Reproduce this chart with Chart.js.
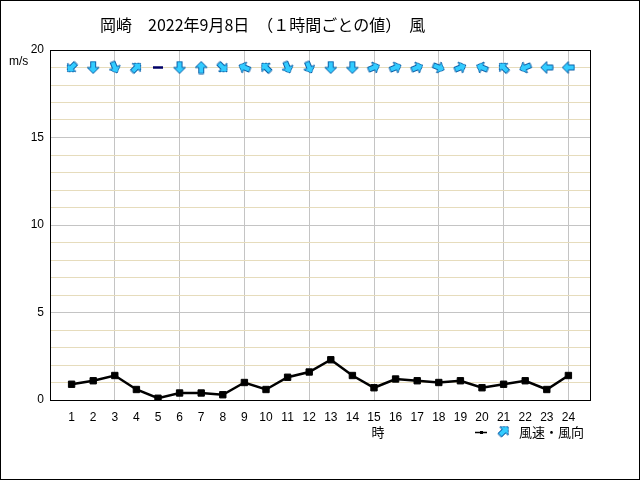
<!DOCTYPE html>
<html>
<head>
<meta charset="utf-8">
<script src="https://cdn.jsdelivr.net/npm/chart.js@4"></script>
<style>
  html, body { margin: 0; padding: 0; background: #fff; }
</style>
</head>
<body>
<canvas id="windChart" width="640" height="480"></canvas>
<script>
// 岡崎 2022年9月8日 1時間ごとの値
const hours = [1, 2, 3, 4, 5, 6, 7, 8, 9, 10, 11, 12, 13, 14, 15, 16, 17, 18, 19, 20, 21, 22, 23, 24];
const windSpeed = [0.9, 1.1, 1.4, 0.6, 0.1, 0.4, 0.4, 0.3, 1.0, 0.6, 1.3, 1.6,
                   2.3, 1.4, 0.7, 1.2, 1.1, 1.0, 1.1, 0.7, 0.9, 1.1, 0.6, 1.4];
// 風向 (吹いてくる方位), 'CALM' = 静穏
const windFrom = ['NE', 'N', 'NNW', 'SW', 'CALM', 'N', 'S', 'NW', 'ESE', 'SE', 'NNW', 'NNW',
                  'N', 'N', 'WSW', 'WSW', 'WSW', 'WNW', 'WSW', 'ESE', 'SE', 'ENE', 'E', 'E'];
const arrowRow = 19;
const yMax = 20;
const xMax = 25;

const compass = ['N', 'NNE', 'NE', 'ENE', 'E', 'ESE', 'SE', 'SSE', 'S', 'SSW', 'SW', 'WSW', 'W', 'WNW', 'NW', 'NNW'];

// fat arrow pointing up, rotated per point
function makeArrow(size) {
    const c = document.createElement('canvas');
    c.width = c.height = size;
    const g = c.getContext('2d');
    const s = size / 14;
    g.beginPath();
    g.moveTo(7 * s, 1 * s);
    g.lineTo(13 * s, 7 * s);
    g.lineTo(9.5 * s, 7 * s);
    g.lineTo(9.5 * s, 13 * s);
    g.lineTo(4.5 * s, 13 * s);
    g.lineTo(4.5 * s, 7 * s);
    g.lineTo(1 * s, 7 * s);
    g.closePath();
    g.fillStyle = '#33ccff';
    g.fill();
    g.strokeStyle = '#0b5fa8';
    g.lineWidth = 1;
    g.stroke();
    return c;
}
const arrowImg = makeArrow(14);

function arrowAngle(dir) {
    return (compass.indexOf(dir) * 22.5 + 180) % 360;
}

const minorGrid = '#e6dcbc';
const majorGrid = '#c4c4c4';

const textPlugin = {
    id: 'texts',
    afterDraw(chart) {
        const ctx = chart.ctx;
        const a = chart.chartArea;
        ctx.save();
        ctx.strokeStyle = '#000';
        ctx.lineWidth = 1;
        ctx.strokeRect(a.left + 0.5, a.top + 0.5, a.right - a.left, a.bottom - a.top);
        ctx.strokeRect(0.5, 0.5, 639, 479);

        ctx.fillStyle = '#000';
        ctx.textBaseline = 'middle';
        ctx.textAlign = 'left';
        ctx.font = '16px "Noto Sans CJK JP"';
        ctx.fillText('岡崎　2022年9月8日　（１時間ごとの値）　風', 100, 25);

        ctx.font = '12px "Liberation Sans"';
        ctx.fillText('m/s', 9, 62);

        ctx.font = '13px "Noto Sans CJK JP"';
        ctx.textAlign = 'center';
        ctx.fillText('時', 378, 432);

        // legend
        ctx.textAlign = 'left';
        ctx.fillText('風速・風向', 519, 432);
        ctx.beginPath();
        ctx.moveTo(475, 432.5);
        ctx.lineTo(487, 432.5);
        ctx.lineWidth = 1.5;
        ctx.stroke();
        ctx.fillRect(480, 431, 3, 3);
        ctx.translate(504, 431);
        ctx.rotate(Math.PI / 4);
        ctx.drawImage(arrowImg, -7, -7, 14, 14);
        ctx.restore();
    }
};

new Chart(document.getElementById('windChart'), {
    type: 'line',
    data: {
        datasets: [
            {
                label: '風向',
                data: hours.map(h => ({ x: h, y: arrowRow })),
                showLine: false,
                pointStyle: ctx => windFrom[ctx.dataIndex] === 'CALM' ? 'line' : arrowImg,
                pointRotation: ctx => windFrom[ctx.dataIndex] === 'CALM' ? 0 : arrowAngle(windFrom[ctx.dataIndex]),
                pointRadius: 5,
                pointBorderColor: '#000066',
                pointBorderWidth: 2.5
            },
            {
                label: '風速',
                data: hours.map((h, i) => ({ x: h, y: windSpeed[i] })),
                borderColor: '#000',
                borderWidth: 2.5,
                pointStyle: 'rect',
                pointRadius: 4.5,
                pointBackgroundColor: '#000',
                pointBorderColor: '#000',
                pointBorderWidth: 1,
                tension: 0
            }
        ]
    },
    options: {
        responsive: false,
        animation: false,
        layout: { padding: { top: 50, right: 50, left: 0, bottom: 0 } },
        plugins: {
            legend: { display: false },
            tooltip: { enabled: false },
            title: { display: false }
        },
        scales: {
            x: {
                type: 'linear',
                min: 0,
                max: xMax,
                afterFit: scale => { scale.height = 80; },
                border: { display: false },
                grid: {
                    drawTicks: false,
                    color: ctx => {
                        const v = ctx.tick ? ctx.tick.value : 0;
                        return (v > 0 && v < xMax && v % 3 === 0) ? majorGrid : 'rgba(0,0,0,0)';
                    }
                },
                ticks: {
                    stepSize: 1,
                    autoSkip: false,
                    maxRotation: 0,
                    padding: 10,
                    color: '#000',
                    font: { family: 'Liberation Sans', size: 12 },
                    callback: v => (v >= 1 && v <= 24) ? v : ''
                }
            },
            y: {
                min: 0,
                max: yMax,
                afterFit: scale => { scale.width = 50; },
                border: { display: false },
                grid: {
                    drawTicks: false,
                    color: ctx => {
                        const v = ctx.tick ? ctx.tick.value : 0;
                        return v % 5 === 0 ? majorGrid : minorGrid;
                    }
                },
                ticks: {
                    stepSize: 1,
                    autoSkip: false,
                    padding: 6,
                    color: '#000',
                    font: { family: 'Liberation Sans', size: 12 },
                    callback: v => v % 5 === 0 ? v : ''
                }
            }
        }
    },
    plugins: [textPlugin]
});
</script>
</body>
</html>
